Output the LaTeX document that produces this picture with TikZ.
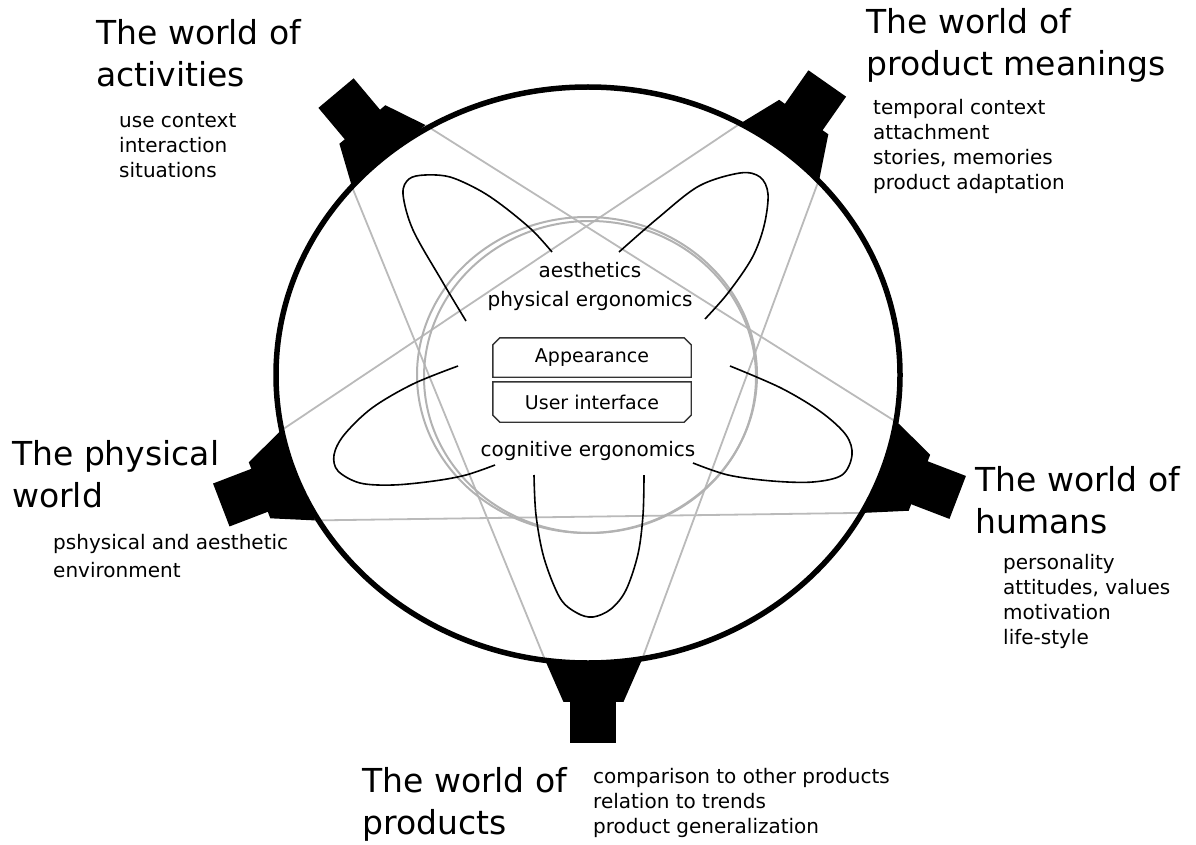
\documentclass[tikz,border=0pt]{standalone}
\usepackage{fontspec}
\setmainfont{DejaVu Sans}
\usetikzlibrary{calc}

\begin{document}
\begin{tikzpicture}[
        x=1pt, y=-1pt,
        rim/.style={line width=5.5pt},
        plug/.style={fill=black, draw=none},
        starline/.style={draw=black!27, line width=1.8pt},
        coreline/.style={draw=black!30, line width=2pt},
        orbit/.style={draw=black, line width=1.6pt, smooth, tension=0.55},
        world/.style={anchor=north west, inner sep=0pt, align=left, font=\fontsize{33}{42}\selectfont},
        facet/.style={anchor=north west, inner sep=0pt, align=left, font=\fontsize{20}{25}\selectfont},
        topic/.style={align=center, inner sep=0pt, font=\fontsize{20}{29}\selectfont},
        panel/.style={minimum width=198pt, inner sep=0pt, font=\fontsize{19}{23}\selectfont},
        frame/.style={draw=black!80, line width=1.4pt}
    ]
        \useasboundingbox (0,0) rectangle (1196,845);
        \coordinate (c) at (588,375);

        % ===== connectors on the rim =====
        \foreach \n/\t/\r in {tl/130/220, tr/51.7/145, l/200.6/291, r/341/69, b/271/0} {
            \begin{scope}[shift={($(c)+(\t:312pt and 288pt)$)}, rotate=\r]
                \fill[plug] (-48,-2) -- (48,-2) -- (30,39) -- (-30,39) -- cycle;
                \fill[plug] (-23,38) rectangle (23,80);
                \coordinate (\n-p) at (48,-2);
                \coordinate (\n-m) at (-48,-2);
            \end{scope}
        }

        % ===== pentagram =====
        \draw[starline] (tl-m) -- (r-p);
        \draw[starline] (tr-p) -- (l-m);
        \draw[starline] (tl-p) -- (b-m);
        \draw[starline] (tr-m) -- (b-p);
        \draw[starline] (l-p) -- (r-m);

        % inner ring
        \draw[coreline] (587,375) ellipse [x radius=170pt, y radius=158pt];
        \draw[coreline] (590,377) ellipse [x radius=166pt, y radius=156pt];

        % outer ring
        \draw[rim] (c) ellipse [x radius=312pt, y radius=288pt];

        % ===== petals =====
        \draw[orbit] plot coordinates {(466,321) (442,281) (413,230) (403,194) (409,179) (425,175) (450,177) (479,190) (503,206) (532,230) (552,252)};
        \draw[orbit] plot coordinates {(619,252) (658,218) (699,186) (740,173) (760,177) (768,194) (764,226) (752,258) (728,293) (705,319)};
        \draw[orbit] plot coordinates {(458,366) (413,384) (372,408) (344,435) (334,455) (338,471) (360,483) (393,485) (434,481) (466,475) (495,465)};
        \draw[orbit] plot coordinates {(730,366) (781,388) (821,412) (846,435) (852,455) (842,475) (813,482) (772,481) (728,475) (693,463)};
        \draw[orbit] plot coordinates {(534,475) (536,515) (544,558) (560,598) (577,613) (593,617) (611,609) (626,590) (638,554) (643,515) (644,475)};

        % ===== centre =====
        \node[topic] (physLabel) at (590,286) {aesthetics\\physical ergonomics};
        \node[topic] (cogLabel) at (588,451) {cognitive ergonomics};
        \node[panel, minimum height=39pt] (app) at (592,357.5) {Appearance};
        \node[panel, minimum height=40pt] (ui) at (592,402) {User interface};
        \draw[frame] (app.south west) -- ([yshift=-7pt]app.north west) -- ([xshift=7pt]app.north west)
            -- ([xshift=-7pt]app.north east) -- ([yshift=-7pt]app.north east) -- (app.south east) -- cycle;
        \draw[frame] (ui.north west) -- ([yshift=7pt]ui.south west) -- ([xshift=7pt]ui.south west)
            -- ([xshift=-7pt]ui.south east) -- ([yshift=7pt]ui.south east) -- (ui.north east) -- cycle;

        % ===== worlds =====
        \node[world] (activities) at (96,19) {The world of\\activities};
        \node[facet] (activitiesList) at (119,113) {use context\\interaction\\situations};
        \node[world] (meanings) at (866,8) {The world of\\product meanings};
        \node[facet] (meaningsList) at (873,99) {temporal context\\attachment\\stories, memories\\product adaptation};
        \node[world] (physical) at (12,440) {The physical\\world};
        \node[facet, font=\fontsize{20}{28}\selectfont] (physicalList) at (53,534) {pshysical and aesthetic\\environment};
        \node[world] (humans) at (975,466) {The world of\\humans};
        \node[facet] (humansList) at (1003,554) {personality\\attitudes, values\\motivation\\life-style};
        \node[world] (products) at (362,767) {The world of\\products};
        \node[facet] (productsList) at (593,768) {comparison to other products\\relation to trends\\product generalization};

    \end{tikzpicture}
\end{document}
